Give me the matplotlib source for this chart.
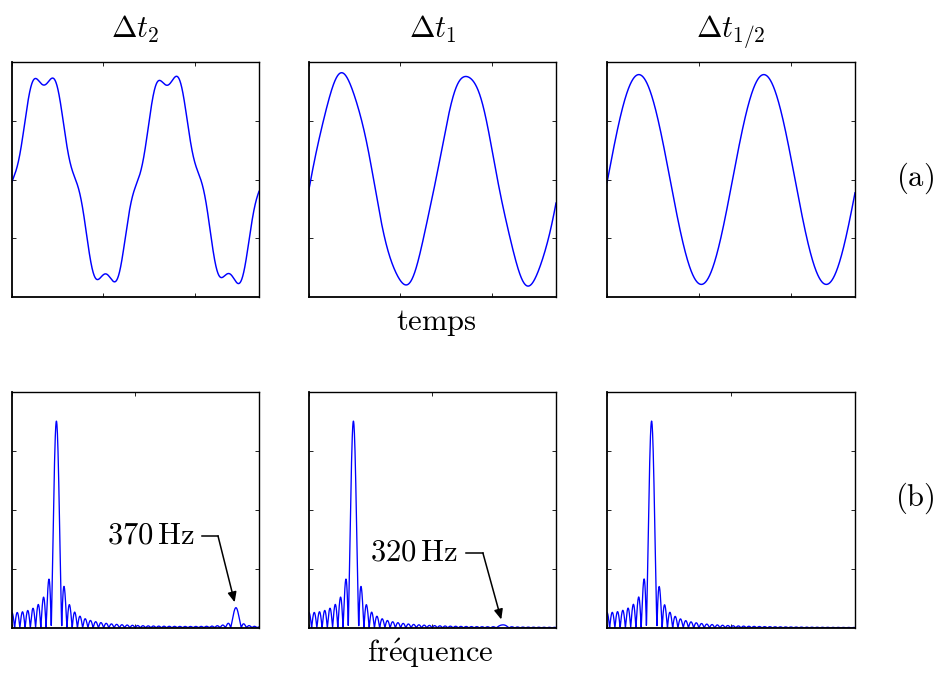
import numpy as np
import matplotlib
matplotlib.use("Agg")
import matplotlib.pyplot as plt

plt.rcParams["mathtext.fontset"] = "cm"
plt.rcParams["font.family"] = ["DejaVu Serif"]

# ---------------- data ----------------
panel_titles = [r"$\Delta t_2$", r"$\Delta t_1$", r"$\Delta t_{1/2}$"]
row_labels = [r"$(\mathrm{a})$", r"$(\mathrm{b})$"]
time_label = r"$\mathrm{temps}$"
freq_label = r"$\mathrm{fr\acute{e}quence}$"

fund_freq_hz = 73.5                    # main spectral peak
fund_amp = [1.0, 1.0, 1.0]
fund_phase = [-0.05, -0.11, -0.03]
alias_freq_hz = [370.0, 320.0, 0.0]    # aliased component (none in 3rd panel)
alias_amp = [0.10, 0.02, 0.0]
alias_phase = [2.86, 1.08, 0.0]
alias_text = [r"$370\,\mathrm{Hz}$", r"$320\,\mathrm{Hz}$", None]

time_window_s = 0.027                  # shown time span
spectrum_window_s = 0.1156             # analysed duration
freq_max_hz = 408.0
time_ticks = [0.0, 0.01, 0.02]

# ---------------- figure ----------------
W, H = 937, 674
fig = plt.figure(figsize=(W / 100, H / 100), dpi=100)

def px_axes(x0, y0, x1, y1):
    return fig.add_axes([x0 / W, 1 - y1 / H, (x1 - x0) / W, (y1 - y0) / H])

col_px = [(12, 259), (309, 556), (607, 855)]
top_px = (62, 297)
bot_px = (392, 628)

def style(ax):
    for name, s in ax.spines.items():
        s.set_linewidth(1.3 if name in ("left", "bottom") else 1.0)
        s.set_color("black")
    ax.tick_params(direction="in", length=3, width=0.6, top=True, right=True,
                   labelbottom=False, labelleft=False)

def signal(i, t):
    return (fund_amp[i] * np.sin(2 * np.pi * fund_freq_hz * t + fund_phase[i])
            + alias_amp[i] * np.sin(2 * np.pi * alias_freq_hz[i] * t + alias_phase[i]))

fs = 4000.0
nfft = 16000
blue = "#0000ff"

# annotation layout (axes fractions)
ann_layout = [
    dict(text_xy=(0.741, 0.394), line=(0.769, 0.834), line_y=0.390),
    dict(text_xy=(0.603, 0.322), line=(0.636, 0.704), line_y=0.318),
    None,
]

for i, (x0, x1) in enumerate(col_px):
    # time domain
    ax = px_axes(x0, top_px[0], x1, top_px[1])
    t = np.linspace(0, time_window_s, 2000)
    ax.plot(t, signal(i, t), color=blue, lw=1.05)
    ax.set_xlim(0, time_window_s)
    ax.set_ylim(-1.12, 1.12)
    ax.set_xticks(time_ticks)
    ax.set_yticks([-0.56, 0, 0.56])
    style(ax)
    fig.text((x0 + x1) / 2 / W, 1 - 38 / H, panel_titles[i], fontsize=22,
             ha="center", va="baseline")

    # spectrum
    axb = px_axes(x0, bot_px[0], x1, bot_px[1])
    ts = np.arange(0, spectrum_window_s, 1 / fs)
    xs = signal(i, ts)
    X = np.abs(np.fft.rfft(xs, n=nfft)) / len(ts)
    f = np.fft.rfftfreq(nfft, 1 / fs)
    m = f <= freq_max_hz + 1
    axb.plot(f[m], X[m], color=blue, lw=0.95)
    axb.set_xlim(0, freq_max_hz)
    axb.set_ylim(0, 0.57)
    axb.set_xticks([0, freq_max_hz / 2, freq_max_hz])
    axb.set_yticks([0.1425, 0.285, 0.4275])
    style(axb)

    if alias_text[i] is not None:
        lay = ann_layout[i]
        axb.text(lay["text_xy"][0], lay["text_xy"][1], alias_text[i],
                 transform=axb.transAxes, fontsize=22, ha="right", va="center")
        axb.plot(lay["line"], [lay["line_y"], lay["line_y"]], color="black",
                 lw=1.1, transform=axb.transAxes, clip_on=False)
        near = np.abs(f - alias_freq_hz[i]) < 6
        peak = X[near].max()
        axb.annotate("", xy=(alias_freq_hz[i], peak),
                     xytext=(lay["line"][1], lay["line_y"]),
                     xycoords="data", textcoords="axes fraction",
                     arrowprops=dict(arrowstyle="-|>,head_length=0.5,head_width=0.22",
                                     mutation_scale=12, color="black", lw=1.1,
                                     shrinkA=0, shrinkB=4))

fig.text(436 / W, 1 - 330 / H, time_label, fontsize=22, ha="center", va="baseline")
fig.text(430 / W, 1 - 662 / H, freq_label, fontsize=22, ha="center", va="baseline")
fig.text(915 / W, 1 - 178 / H, row_labels[0], fontsize=22, ha="center", va="center")
fig.text(915 / W, 1 - 498 / H, row_labels[1], fontsize=22, ha="center", va="center")

fig.savefig("out.png", dpi=100)
